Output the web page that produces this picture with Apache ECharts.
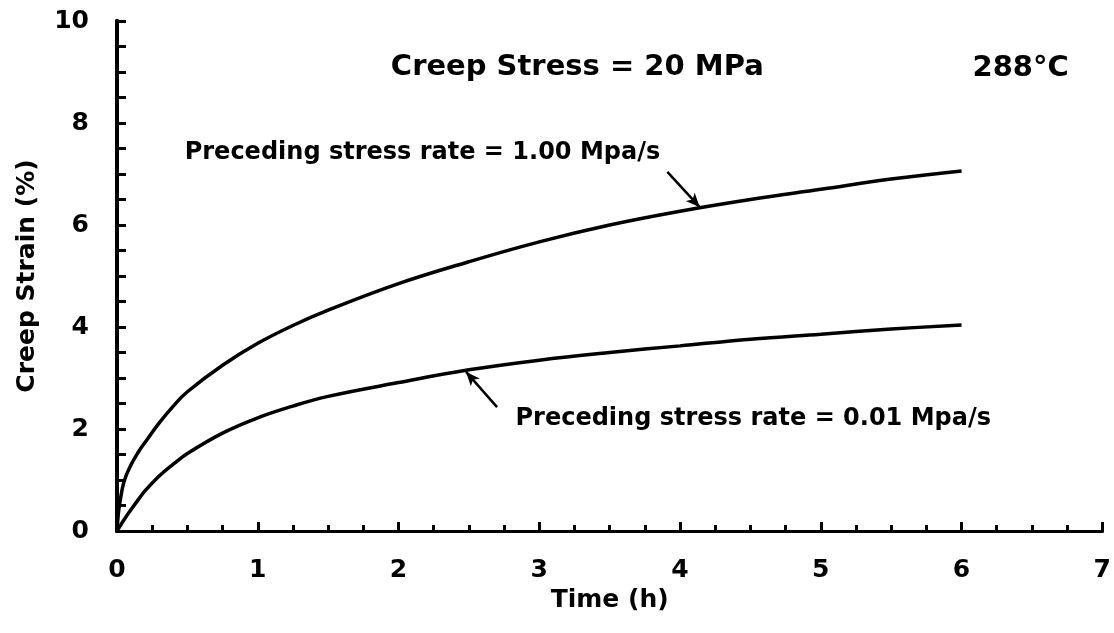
<!DOCTYPE html>
<html>
<head>
<meta charset="utf-8">
<script src="https://cdn.jsdelivr.net/npm/echarts@6/dist/echarts.min.js"></script>
<style>
  html, body { margin: 0; padding: 0; background: #fff; }
  #chart { width: 1114px; height: 633px; }
</style>
</head>
<body>
<div id="chart"></div>
<script>
// time (h) and creep strain (%)
var timeH = [0, 0.01, 0.02, 0.05, 0.1, 0.15, 0.2, 0.3, 0.4, 0.5, 0.75, 1, 1.25, 1.5, 2, 2.5, 3, 3.5, 4, 4.5, 5, 5.5, 6];
var strainFast = [0, 0.35, 0.55, 0.97, 1.3, 1.54, 1.74, 2.12, 2.45, 2.73, 3.25, 3.68, 4.03, 4.33, 4.85, 5.28, 5.67, 6.0, 6.27, 6.5, 6.7, 6.9, 7.06];
var strainSlow = [0, 0.045, 0.09, 0.22, 0.42, 0.61, 0.79, 1.08, 1.31, 1.52, 1.92, 2.22, 2.45, 2.64, 2.91, 3.16, 3.35, 3.5, 3.63, 3.76, 3.86, 3.96, 4.04];
var xTicks = [0, 1, 2, 3, 4, 5, 6, 7];
var yTicks = [0, 2, 4, 6, 8, 10];

var FONT = "'DejaVu Sans', Verdana, sans-serif";

function pairs(xs, ys) {
  return xs.map(function (x, i) { return [x, ys[i]]; });
}

function note(text, coord, size) {
  return {
    coord: coord,
    symbol: "circle",
    symbolSize: 0,
    itemStyle: { color: "rgba(0,0,0,0)" },
    label: {
      show: true,
      position: "inside",
      formatter: text,
      color: "#000",
      fontFamily: FONT,
      fontWeight: "bold",
      fontSize: size,
    },
  };
}

var myChart = echarts.init(document.getElementById("chart"));
var option = {
  backgroundColor: "#fff",
  animation: false,
  grid: { left: 117, right: 11, top: 21, bottom: 102 },
  xAxis: [
    {
      type: "value",
      min: 0,
      max: 7,
      interval: 1,
      name: "Time (h)",
      nameLocation: "middle",
      nameGap: 52,
      nameTextStyle: { color: "#000", fontFamily: FONT, fontWeight: "bold", fontSize: 25 },
      axisLine: { show: true, onZero: false, lineStyle: { color: "#000", width: 3 } },
      axisTick: { show: true, inside: true, length: 9, lineStyle: { color: "#000", width: 3 } },
      minorTick: { show: true, splitNumber: 4, length: 6, lineStyle: { color: "#000", width: 3 } },
      axisLabel: {
        margin: 27,
        color: "#000",
        fontFamily: FONT,
        fontWeight: "bold",
        fontSize: 25,
        formatter: function (v) { return xTicks.indexOf(v) >= 0 ? String(v) : ""; },
      },
      splitLine: { show: false },
    },
    {
      type: "value",
      position: "top",
      min: 0,
      max: 7,
      axisLine: { show: true, lineStyle: { color: "#000", width: 3 } },
      axisTick: { show: false },
      axisLabel: { show: false },
      splitLine: { show: false },
    },
  ],
  yAxis: [
    {
      type: "value",
      min: 0,
      max: 10,
      interval: 2,
      name: "Creep Strain (%)",
      nameLocation: "middle",
      nameGap: 77,
      nameTextStyle: { color: "#000", fontFamily: FONT, fontWeight: "bold", fontSize: 25 },
      axisLine: { show: true, onZero: false, lineStyle: { color: "#000", width: 4 } },
      axisTick: { show: true, inside: true, length: 9, lineStyle: { color: "#000", width: 3 } },
      minorTick: { show: true, splitNumber: 4, length: 9, lineStyle: { color: "#000", width: 3 } },
      axisLabel: {
        margin: 28,
        color: "#000",
        fontFamily: FONT,
        fontWeight: "bold",
        fontSize: 25,
        formatter: function (v) { return yTicks.indexOf(v) >= 0 ? String(v) : ""; },
      },
      splitLine: { show: false },
    },
    {
      type: "value",
      position: "right",
      min: 0,
      max: 10,
      axisLine: { show: true, lineStyle: { color: "#000", width: 4 } },
      axisTick: { show: false },
      axisLabel: { show: false },
      splitLine: { show: false },
    },
  ],
  series: [
    {
      name: "Preceding stress rate = 1.00 Mpa/s",
      type: "line",
      showSymbol: false,
      smooth: 0.4,
      lineStyle: { color: "#000", width: 3.5 },
      data: pairs(timeH, strainFast),
      markPoint: {
        silent: true,
        data: [
          note("Creep Stress = 20 MPa", [3.27, 9.08], 29),
          note("288°C", [6.42, 9.07], 29),
          note("Preceding stress rate = 1.00 Mpa/s", [2.17, 7.41], 24),
          note("Preceding stress rate = 0.01 Mpa/s", [4.52, 2.2], 24),
        ],
      },
      markLine: {
        silent: true,
        symbol: ["none", "arrow"],
        symbolSize: [9, 14],
        label: { show: false },
        lineStyle: { color: "#000", width: 2.5, type: "solid" },
        data: [
          [{ coord: [3.91, 7.04] }, { coord: [4.14, 6.35] }],
          [{ coord: [2.70, 2.43] }, { coord: [2.48, 3.12] }],
        ],
      },
    },
    {
      name: "Preceding stress rate = 0.01 Mpa/s",
      type: "line",
      showSymbol: false,
      smooth: 0.4,
      lineStyle: { color: "#000", width: 3.5 },
      data: pairs(timeH, strainSlow),
    },
  ],
};
myChart.setOption(option);
</script>
</body>
</html>
